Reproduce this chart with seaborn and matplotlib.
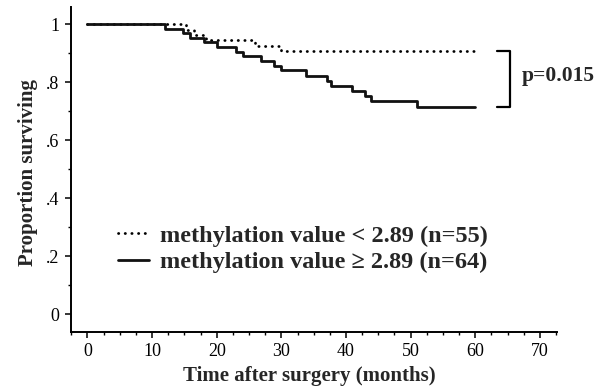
import matplotlib
matplotlib.use("Agg")
import matplotlib.pyplot as plt
import matplotlib.ticker as mticker
import pandas as pd
import seaborn as sns

# --- Kaplan-Meier steps (months, proportion surviving) ---
low_time = [0, 15.2, 16.5, 18.3, 25.9, 30.0, 60]
low_surv = [1.0, 0.982, 0.964, 0.945, 0.927, 0.909, 0.909]

high_time = [0, 12.0, 14.8, 15.8, 18.0, 20.0, 23.0, 24.0, 26.9, 28.9, 30.0,
             33.8, 37.0, 37.7, 40.9, 43.0, 43.8, 51.0, 60]
high_surv = [1.0, 0.984, 0.969, 0.953, 0.938, 0.922, 0.906, 0.890, 0.874, 0.858,
             0.842, 0.822, 0.803, 0.787, 0.770, 0.752, 0.735, 0.716, 0.716]

group_labels = ["methylation value < 2.89 (n=55)",
                "methylation value \u2265 2.89 (n=64)"]
x_ticks = [0, 10, 20, 30, 40, 50, 60, 70]
y_ticks = [0, 0.2, 0.4, 0.6, 0.8, 1.0]
y_ticklabels = ["0", ".2", ".4", ".6", ".8", "1"]
p_text = "p=0.015"

sns.set_style("ticks")
plt.rcParams["font.family"] = ["Liberation Serif", "DejaVu Serif"]

fig = plt.figure(figsize=(6.08, 3.89), dpi=100)
ax = fig.add_axes([0.1168, 0.1478, 0.7988, 0.8342])

df_low = pd.DataFrame({"time": low_time, "surv": low_surv})
df_high = pd.DataFrame({"time": high_time, "surv": high_surv})

sns.lineplot(data=df_low, x="time", y="surv", estimator=None, sort=False,
             drawstyle="steps-post", color="black", lw=2.0,
             linestyle=(0, (0.1, 2.3)), dash_capstyle="round",
             label=group_labels[0], ax=ax)
sns.lineplot(data=df_high, x="time", y="surv", estimator=None, sort=False,
             drawstyle="steps-post", color="#111111", lw=2.0,
             label=group_labels[1], ax=ax)

# axes
ax.set_xlim(-2.55, 72.6)
ax.set_ylim(-0.06, 1.06)
ax.set_xticks(x_ticks)
ax.xaxis.set_minor_locator(mticker.MultipleLocator(2.5))
ax.set_yticks(y_ticks)
ax.set_yticklabels(y_ticklabels)
ax.yaxis.set_minor_locator(mticker.MultipleLocator(0.1))
sns.despine(ax=ax)
for side in ["left", "bottom"]:
    ax.spines[side].set_linewidth(1.4)
    ax.spines[side].set_color("black")
ax.tick_params(which="major", length=4.5, width=1.1, labelsize=13, pad=4,
               colors="black", direction="out")
ax.tick_params(which="minor", length=2.2, width=1.0, colors="black",
               direction="out")

ax.set_xlabel("Time after surgery (months)", fontsize=15, fontweight="bold")
ax.set_ylabel("Proportion surviving", fontsize=15, fontweight="bold")
ax.xaxis.set_label_coords(0.491, -0.105)
ax.yaxis.set_label_coords(-0.068, 0.49)

# legend
ax.legend(loc="center left", bbox_to_anchor=(4.7, 0.225),
          bbox_transform=ax.transData, frameon=False, borderpad=0,
          borderaxespad=0, prop={"size": 17.5, "weight": "bold"},
          handlelength=1.3, handletextpad=0.45, labelspacing=0.2)

# p-value bracket between the two curve ends
y_top, y_bot = low_surv[-1], high_surv[-1]
ax.plot([63.3, 65.3, 65.3, 63.3], [y_top, y_top, y_bot, y_bot],
        color="black", lw=1.6, clip_on=False)
ax.text(67.2, (y_top + y_bot) / 2 + 0.01, p_text, fontsize=15.5,
        fontweight="bold", ha="left", va="center", clip_on=False)

fig.savefig("out.png", dpi=100)
